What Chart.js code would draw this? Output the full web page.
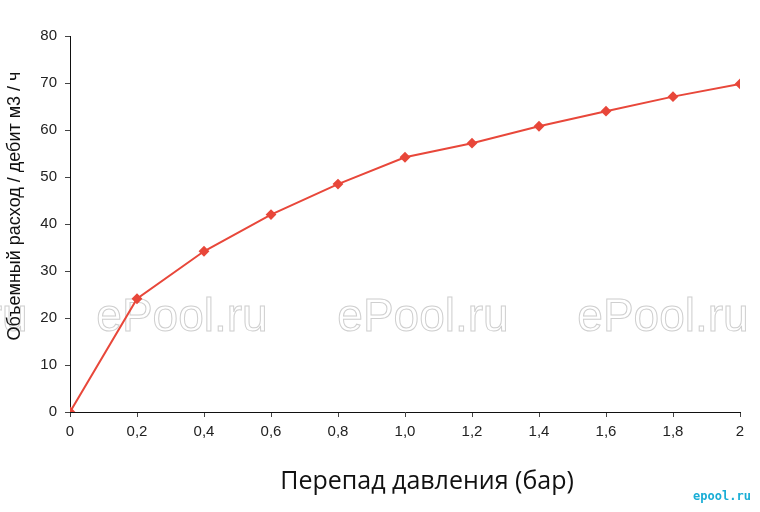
<!DOCTYPE html>
<html><head><meta charset="utf-8">
<script src="https://cdn.jsdelivr.net/npm/chart.js@4"></script>
<style>html,body{margin:0;padding:0;background:#fff}canvas{display:block}</style>
</head><body>
<canvas id="c" width="760" height="512"></canvas>
<script>
const pressure = [0, 0.2, 0.4, 0.6, 0.8, 1.0, 1.2, 1.4, 1.6, 1.8, 2.0];
const flow = [0, 24.1, 34.2, 42.0, 48.5, 54.2, 57.2, 60.8, 64.0, 67.1, 69.8];
const xTickLabels = ['0','0,2','0,4','0,6','0,8','1,0','1,2','1,4','1,6','1,8','2'];
const yTitle = 'Объемный расход / дебит м3 / ч';
const xTitle = 'Перепад давления (бар)';
const watermark = 'ePool.ru';
const logo = 'epool.ru';

const overlay = {
  id: 'overlay',
  beforeDatasetsDraw(chart) {
    const ctx = chart.ctx;
    ctx.save();
    ctx.font = '46px "Liberation Sans", Arial, sans-serif';
    ctx.textAlign = 'center';
    ctx.textBaseline = 'middle';
    ctx.lineWidth = 1;
    ctx.strokeStyle = '#cfcfcf';
    [-58, 182, 423, 663].forEach(cx => {
      ctx.strokeText(watermark, cx, 318);
    });
    ctx.restore();
  },
  afterDraw(chart) {
    const ctx = chart.ctx;
    ctx.save();
    ctx.fillStyle = '#111';
    ctx.font = '18px "Liberation Sans", Arial, sans-serif';
    ctx.textAlign = 'center';
    ctx.textBaseline = 'middle';
    ctx.translate(15, 206);
    ctx.rotate(-Math.PI / 2);
    ctx.fillText(yTitle, 0, 0);
    ctx.restore();
    ctx.save();
    ctx.fillStyle = '#111';
    ctx.font = '25px "Open Sans", sans-serif';
    ctx.textAlign = 'center';
    ctx.textBaseline = 'middle';
    ctx.fillText(xTitle, 427, 482);
    ctx.fillStyle = '#1aaed6';
    ctx.font = 'bold 12px "DejaVu Sans Mono", monospace';
    ctx.fillText(logo, 722, 497);
    ctx.restore();
  }
};

new Chart(document.getElementById('c'), {
  type: 'line',
  data: {
    datasets: [{
      data: pressure.map((x, i) => ({x, y: flow[i]})),
      borderColor: '#e8473a',
      backgroundColor: '#e8473a',
      borderWidth: 2,
      pointStyle: 'rectRot',
      pointRadius: 4,
      tension: 0
    }]
  },
  options: {
    responsive: false,
    animation: false,
    layout: { padding: { top: 36, right: 20, left: 0, bottom: 0 } },
    plugins: { legend: { display: false }, tooltip: { enabled: false } },
    scales: {
      x: {
        type: 'linear', min: 0, max: 2,
        afterFit(s) { s.height = 100; },
        afterBuildTicks(s) { s.ticks = pressure.map(v => ({value: v})); },
        ticks: {
          callback: (v, i) => xTickLabels[i],
          color: '#222', font: { family: '"Liberation Sans", Arial, sans-serif', size: 15 },
          padding: 6, maxRotation: 0, autoSkip: false
        },
        grid: { drawOnChartArea: false, color: '#222', tickLength: 5, tickColor: '#444' },
        border: { color: '#111', width: 1 }
      },
      y: {
        min: 0, max: 80,
        afterFit(s) { s.width = 70; },
        ticks: {
          stepSize: 10,
          color: '#222', font: { family: '"Liberation Sans", Arial, sans-serif', size: 15 },
          padding: 8
        },
        grid: { drawOnChartArea: false, color: '#222', tickLength: 5, tickColor: '#444' },
        border: { color: '#111', width: 1 }
      }
    }
  },
  plugins: [overlay]
});
</script>
</body></html>
